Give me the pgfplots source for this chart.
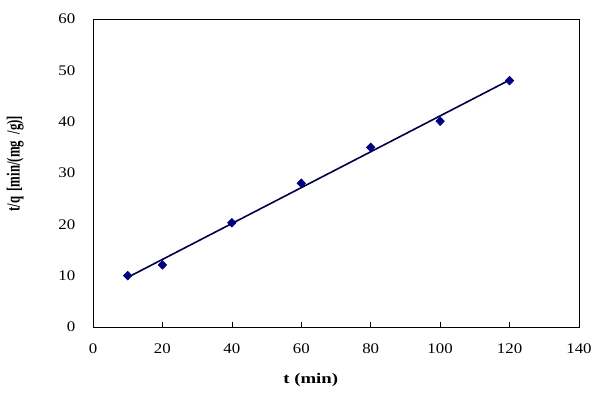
\documentclass[border=0pt]{standalone}
\usepackage{fontspec}
\setmainfont{Liberation Serif}
\usepackage{pgfplots}
\pgfplotsset{compat=1.18}
\definecolor{navy}{RGB}{0,0,128}
\definecolor{fitline}{RGB}{0,0,70}
\begin{document}
\begin{tikzpicture}
\useasboundingbox (-69.75pt,-57.75pt) rectangle (380.25pt,245.25pt);
\begin{axis}[
  scale only axis,
  width=364.5pt, height=231pt,
  xmin=0, xmax=140, ymin=0, ymax=60,
  xtick={0,20,...,140}, ytick={0,10,...,60},
  /pgf/number format/assume math mode=true,
  tick label style={font=\fontsize{11}{13}\selectfont, xscale=1.15},
  tick align=inside,
  xtick pos=bottom,
  ytick pos=left,
  major tick length=4pt,
  y tick style={draw=none},
  x tick style={black, line width=0.5pt},
  yticklabel style={xshift=-8pt},
  xticklabel style={yshift=-9pt},
  axis line style={line width=0.6pt},
  xlabel={\scalebox{1.28}[1]{\textbf{t (min)}}},
  ylabel={\scalebox{1}[1.45]{\textbf{t/q\, [min/(mg\enspace/g)]}}},
  label style={font=\fontsize{9.6}{12}\selectfont},
  xlabel style={at={(axis description cs:0.448,-0.172)}, anchor=center, font=\fontsize{11}{13}\selectfont},
  ylabel style={at={(axis description cs:-0.16,0.53)}, anchor=center},
]
\addplot[color=fitline, line width=1.2pt, no marks] coordinates {(10,9.67) (120,48.12)};
\addplot[only marks, mark=diamond*, mark size=3.3pt, color=navy, mark options={fill=navy, draw=navy, xscale=1.3}] coordinates {
(10,10.0) (20,12.1) (40,20.3) (60,28.0) (80,35.0) (100,40.1) (120,48.0)};
\end{axis}
\end{tikzpicture}
\end{document}
